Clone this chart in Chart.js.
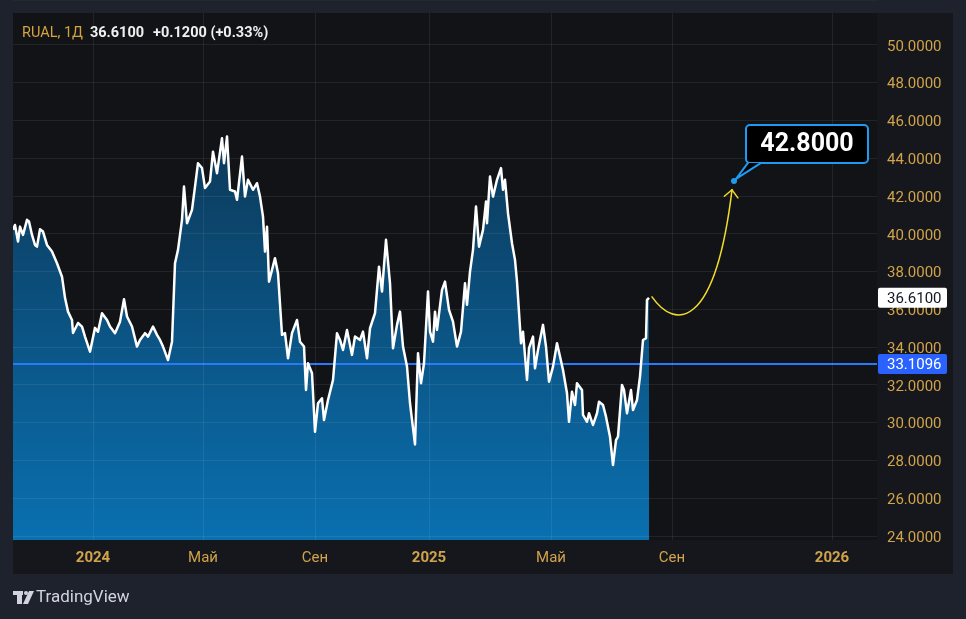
<!DOCTYPE html>
<html>
<head>
<meta charset="utf-8">
<script src="https://cdn.jsdelivr.net/npm/chart.js@4.4.1/dist/chart.umd.min.js"></script>
<style>
  html, body { margin: 0; padding: 0; background: #1e222d; }
  #wrap { width: 966px; height: 619px; }
</style>
</head>
<body>
<div id="wrap"><canvas id="canvas1" width="966" height="619"></canvas></div>
<script>
"use strict";

// daily closes, RUAL (bar number from the left edge of the view)
const bars = [0,2,5,7,10,14,16,19,22,24,27,30,34,39,44,49,52,55,59,60,65,69,72,77,82,85,89,94,97,102,107,111,114,119,124,127,132,135,140,144,147,150,155,
  159,162,165,169,171,174,179,182,185,189,192,197,200,204,209,211,214,217,222,224,229,232,235,240,244,247,250,252,254,256,262,265,269,272,275,279,284,287,291,293,295,299,302,305,309,311,315,320,324,327,330,334,339,342,347,350,354,357,362,366,369,373,377,380,384,387,390,394,397,402,
  405,408,411,415,417,420,422,424,429,432,436,440,444,448,452,454,457,460,463,466,470,473,474,477,480,484,488,490,492,495,499,502,504,508,510,514,516,520,522,525,530,533,536,540,544,547,550,554,556,559,562,564,569,570,574,576,580,584,586,590,593,597,600,603,605,609,611,614,618,620,624,627,630,633,634,636];

const closes = [40.21,40.47,39.59,40.38,39.94,40.74,40.65,39.94,39.41,39.32,40.24,40.12,39.41,39.06,38.44,37.73,36.61,35.88,35.44,34.75,35.28,35.09,34.56,33.76,35.02,34.82,35.80,35.44,35.09,34.74,35.35,36.54,35.62,35.09,34.03,34.38,34.74,34.56,35.09,34.65,34.38,34.03,33.32,
  34.29,38.44,39.15,40.74,42.50,40.56,41.27,42.50,43.74,43.48,42.42,42.77,44.35,43.21,45.06,43.74,45.15,42.33,42.24,41.80,44.09,41.97,42.86,42.33,42.68,41.97,40.91,39.06,40.38,37.47,38.71,37.91,34.65,34.74,33.41,34.74,35.44,34.29,34.03,31.73,33.15,32.62,29.52,31.03,31.29,30.14,31.20,32.26,34.74,34.38,33.85,34.91,33.59,34.56,34.38,34.82,33.41,35.00,35.80,38.26,36.94,39.68,37.38,33.94,35.18,35.88,34.03,32.97,31.03,28.85,
  33.68,32.09,33.15,36.94,34.82,34.29,35.88,34.91,37.03,37.47,35.97,35.35,34.03,34.82,37.38,36.24,38.00,39.15,41.44,39.32,40.21,41.71,40.56,43.03,41.97,42.86,43.48,42.33,42.86,41.09,39.50,38.62,37.47,34.21,34.82,32.26,33.94,34.56,32.88,33.85,35.18,34.03,32.17,32.97,34.21,33.50,32.79,31.56,30.05,31.64,30.94,32.09,31.73,30.41,30.05,30.50,29.88,30.50,31.11,30.94,30.32,29.26,27.76,29.08,29.26,32.00,31.73,30.50,31.73,30.67,31.20,32.44,34.38,34.47,36.50,36.61];

// time axis
const xTickBars = [80, 190, 302, 416, 538, 659, 819];
const xTickLabels = ["2024", "Май", "Сен", "2025", "Май", "Сен", "2026"];
const xTickYear = [true, false, false, true, false, false, true];

// price axis
const yTicks = [24, 26, 28, 30, 32, 34, 36, 38, 40, 42, 44, 46, 48, 50];

// header / markers
const symbol = "RUAL, 1Д";
const lastClose = 36.61;
const change = 0.12;
const changePct = 0.33;
const levelPrice = 33.1096;

// forecast arrow (bar, price)
const arrowFrom = [639, 36.66];
const arrowC1 = [662, 34.91];
const arrowC2 = [702, 34.91];
const arrowTo = [719, 42.33];
const target = [721, 42.8];

const FONT = "Roboto, 'Liberation Sans', sans-serif";
const GOLD = "#d1a34a";

let chart1 = null;

// backgrounds of the panel
const bgPlugin = {
    id: "bg",
    beforeDraw(chart) {
        let ctx = chart.ctx;
        let a = chart.chartArea;
        ctx.save();
        ctx.fillStyle = "#1e222d";
        ctx.fillRect(0, 0, chart.width, chart.height);
        ctx.fillStyle = "#15171c";
        ctx.fillRect(a.left, a.top, 953 - a.left, 574 - a.top);
        ctx.fillStyle = "#111317";
        ctx.fillRect(a.left, a.top, a.right - a.left, a.bottom - a.top);
        ctx.restore();
    },
};

function fmt4(v) { return v.toFixed(4); }

// labels, arrow, callout, logo
const overlayPlugin = {
    id: "overlay",
    afterDraw(chart) {
        let ctx = chart.ctx;
        let xs = chart.scales.x;
        let ys = chart.scales.y;
        let a = chart.chartArea;
        ctx.save();

        // header
        ctx.textBaseline = "middle";
        ctx.textAlign = "left";
        ctx.font = "14.5px " + FONT;
        ctx.fillStyle = "#d4a53f";
        ctx.fillText(symbol, 22, 33);
        let w = ctx.measureText(symbol).width;
        ctx.font = "bold 14.5px " + FONT;
        ctx.fillStyle = "#f0f0f0";
        let t1 = lastClose.toFixed(4);
        ctx.fillText(t1, 22 + w + 7, 33);
        let w2 = ctx.measureText(t1).width;
        ctx.fillText("+" + change.toFixed(4) + " (+" + changePct.toFixed(2) + "%)", 22 + w + 7 + w2 + 9, 33);

        // price labels on the axis
        ctx.font = "15px " + FONT;
        let yl = ys.getPixelForValue(lastClose);
        ctx.fillStyle = "#ffffff";
        ctx.beginPath();
        ctx.roundRect(a.right + 1, yl - 10, 69, 20, 2);
        ctx.fill();
        ctx.fillStyle = "#131722";
        ctx.fillText(fmt4(lastClose), a.right + 10, yl + 1);

        let yb = ys.getPixelForValue(levelPrice);
        ctx.fillStyle = "#2962ff";
        ctx.beginPath();
        ctx.roundRect(a.right + 1, yb - 10, 69, 20, 2);
        ctx.fill();
        ctx.fillStyle = "#ffffff";
        ctx.fillText(fmt4(levelPrice), a.right + 10, yb + 1);

        // forecast arrow
        let p0 = [xs.getPixelForValue(arrowFrom[0]), ys.getPixelForValue(arrowFrom[1])];
        let p1 = [xs.getPixelForValue(arrowC1[0]), ys.getPixelForValue(arrowC1[1])];
        let p2 = [xs.getPixelForValue(arrowC2[0]), ys.getPixelForValue(arrowC2[1])];
        let p3 = [xs.getPixelForValue(arrowTo[0]), ys.getPixelForValue(arrowTo[1])];
        ctx.strokeStyle = "#f2dc2c";
        ctx.lineWidth = 1.5;
        ctx.lineCap = "round";
        ctx.beginPath();
        ctx.moveTo(p0[0], p0[1]);
        ctx.bezierCurveTo(p1[0], p1[1], p2[0], p2[1], p3[0], p3[1]);
        ctx.stroke();
        let dx = p2[0] - p3[0], dy = p2[1] - p3[1];
        let len = Math.hypot(dx, dy);
        dx /= len; dy /= len;
        let ang = 0.75, al = 10;
        ctx.beginPath();
        ctx.moveTo(p3[0] + al * (dx * Math.cos(ang) - dy * Math.sin(ang)), p3[1] + al * (dx * Math.sin(ang) + dy * Math.cos(ang)));
        ctx.lineTo(p3[0], p3[1]);
        ctx.lineTo(p3[0] + al * (dx * Math.cos(-ang) - dy * Math.sin(-ang)), p3[1] + al * (dx * Math.sin(-ang) + dy * Math.cos(-ang)));
        ctx.stroke();

        // callout
        let tx = xs.getPixelForValue(target[0]);
        let ty = ys.getPixelForValue(target[1]);
        let bx = tx + 12, by = ty - 56, bw = 122, bh = 38;
        ctx.fillStyle = "#000000";
        ctx.strokeStyle = "#1e9bf0";
        ctx.lineWidth = 2;
        ctx.beginPath();
        ctx.roundRect(bx, by, bw, bh, 4);
        ctx.fill();
        ctx.stroke();
        ctx.beginPath();
        ctx.moveTo(bx + 2, by + bh);
        ctx.lineTo(tx + 2, ty - 2);
        ctx.lineTo(bx + 15, by + bh);
        ctx.closePath();
        ctx.fill();
        ctx.beginPath();
        ctx.moveTo(bx + 2, by + bh);
        ctx.lineTo(tx + 2, ty - 2);
        ctx.lineTo(bx + 15, by + bh);
        ctx.stroke();
        ctx.fillRect(bx + 3, by + bh - 3, 11, 2);
        ctx.fillStyle = "#1e9bf0";
        ctx.beginPath();
        ctx.arc(tx, ty, 3, 0, Math.PI * 2);
        ctx.fill();
        ctx.fillStyle = "#ffffff";
        ctx.font = "bold 25px " + FONT;
        ctx.textAlign = "center";
        ctx.fillText(target[1].toFixed(4), bx + bw / 2, by + bh / 2 + 1);

        // logo
        ctx.fillStyle = "#d1d4dc";
        ctx.fillRect(13, 591, 10, 4);
        ctx.fillRect(17, 591, 5, 13);
        ctx.beginPath();
        ctx.arc(26, 593, 2, 0, Math.PI * 2);
        ctx.fill();
        ctx.beginPath();
        ctx.moveTo(29, 591);
        ctx.lineTo(34, 591);
        ctx.lineTo(28, 604);
        ctx.lineTo(23, 604);
        ctx.closePath();
        ctx.fill();
        ctx.textAlign = "left";
        ctx.font = "17px " + FONT;
        ctx.fillText("TradingView", 36, 598);

        ctx.restore();
    },
};

function makeChart()
{
    let pts = bars.map((b, i) => ({ x: b, y: closes[i] }));
    let level = [{ x: 0, y: levelPrice }, { x: 864, y: levelPrice }];

    let areaFill = (c) => {
        let a = c.chart.chartArea;
        if (!a) return "rgba(10,110,175,0.8)";
        let g = c.chart.ctx.createLinearGradient(0, a.top, 0, a.bottom);
        g.addColorStop(0, "#0d2a42");
        g.addColorStop(0.25, "#0c3a5b");
        g.addColorStop(1, "#0a70b0");
        return g;
    };

    let opts = {
        type: "line",
        data: {
            datasets: [
                { data: pts, fill: "start", backgroundColor: areaFill, borderWidth: 0, pointRadius: 0, order: 3 },
                { data: level, borderColor: "#2979ff", borderWidth: 2, pointRadius: 0, fill: false, order: 2 },
                { data: pts, borderColor: "#ffffff", borderWidth: 2.5, borderJoinStyle: "round", pointRadius: 0, fill: false, order: 1 },
            ],
        },
        options: {
            responsive: false,
            animation: false,
            events: [],
            layout: { padding: { left: 13, top: 13, right: 13, bottom: 45 } },
            plugins: { legend: { display: false }, tooltip: { enabled: false } },
            scales: {
                x: {
                    type: "linear",
                    min: 0,
                    max: 864,
                    afterFit: (s) => { s.height = 34; s.paddingLeft = 0; s.paddingRight = 0; },
                    afterBuildTicks: (s) => { s.ticks = xTickBars.map(v => ({ value: v })); },
                    grid: { color: "rgba(255,255,255,0.075)", drawTicks: false, z: 1 },
                    border: { color: "#2a2e39", width: 1 },
                    ticks: {
                        autoSkip: false,
                        maxRotation: 0,
                        padding: 9,
                        color: GOLD,
                        font: (c) => ({ family: FONT, size: 15, weight: xTickYear[c.index] ? "bold" : "normal" }),
                        callback: (v, i) => xTickLabels[i],
                    },
                },
                y: {
                    position: "right",
                    min: 23.79,
                    max: 51.69,
                    afterFit: (s) => { s.width = 76; s.paddingTop = 0; s.paddingBottom = 0; },
                    afterBuildTicks: (s) => { s.ticks = yTicks.map(v => ({ value: v })); },
                    grid: { color: "rgba(255,255,255,0.075)", drawTicks: false, z: 1 },
                    border: { display: false },
                    ticks: {
                        padding: 10,
                        labelOffset: 2,
                        color: GOLD,
                        font: { family: FONT, size: 15 },
                        callback: (v) => fmt4(v),
                    },
                },
            },
        },
        plugins: [bgPlugin, overlayPlugin],
    };

    let canvas1 = document.querySelector("#canvas1");
    chart1 = new Chart(canvas1, opts);
}

makeChart();
</script>
</body>
</html>
